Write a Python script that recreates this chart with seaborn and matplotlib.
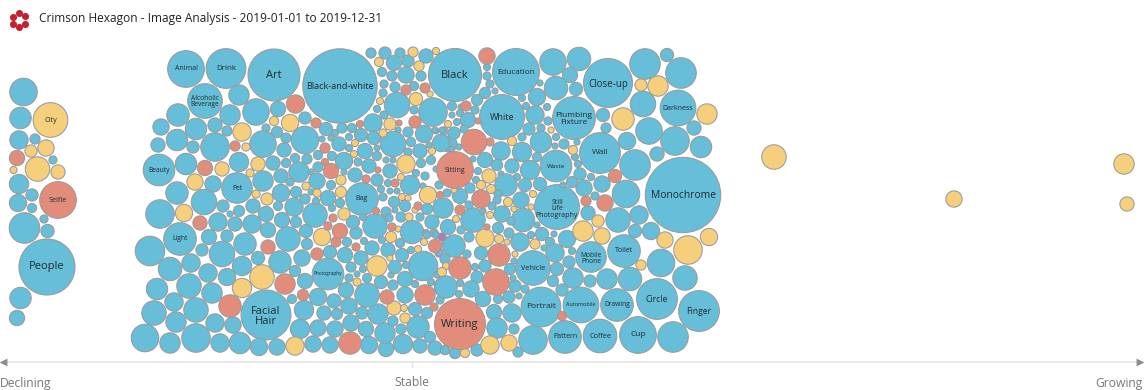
import matplotlib
matplotlib.use("Agg")
import matplotlib.pyplot as plt
import seaborn as sns
import pandas as pd
import numpy as np

OUTPUT_FILE = "out.png"
TITLE = "Crimson Hexagon - Image Analysis - 2019-01-01 to 2019-12-31"

# (trend, spread, radius) for every topic
blue_topics = [
    # declining column
    (23.5, 92, 13.5), (20.5, 118, 10.5), (19, 140, 9), (35, 139, 5), (53, 160, 4), (19, 184, 9.5),
    (32, 195, 6), (18, 203, 8.5), (32, 208, 4.5), (24.5, 228, 15), (44, 219, 4), (47.5, 231, 6.5),
    (47, 267, 27.5), (20.5, 298, 10.5), (17, 318, 7.5),
    # labelled topics
    (186, 69, 18), (226, 68.5, 19.5), (274, 75, 25.5), (340, 86, 36.5), (205, 101, 17), (159, 170, 15.5),
    (237, 188, 15), (180, 239, 16), (266, 315, 24.5), (328, 274, 15.5), (362, 199, 16), (455, 75, 26),
    (516, 72, 23), (502, 117, 22), (574, 118, 21), (608, 83, 24), (678, 108, 17.5), (600, 153, 20),
    (683, 195, 37), (556, 166, 15.5), (557, 207, 22), (533, 268, 17), (591, 257, 15), (624, 251, 16),
    (657, 299, 20), (699, 311, 20), (617, 305, 16), (581, 305, 17.5), (541, 307, 19.5), (565, 337, 16),
    (600, 336, 16.5), (638, 335, 18),
    # left of the cluster
    (239, 95, 10), (256, 112, 13), (230, 115, 10), (278, 109, 7.5), (178, 115, 11), (161, 127, 8),
    (196, 129, 10.5), (215, 125, 7), (227, 131, 5), (305, 118, 6), (266, 128, 4), (277, 132, 5.5),
    (177, 140, 10.5), (158, 145, 7), (193, 147, 6), (215, 147, 14), (263, 144, 13), (286, 138, 5),
    (305, 140, 13.5), (186, 164, 10.5), (239, 162, 9.5), (273, 163, 7), (284, 150, 7), (295, 158, 4.5),
    (307, 159, 5), (263, 181, 10), (281, 176, 7), (299, 172, 10), (213, 184, 8), (177, 193, 11),
    (204, 202, 12.5), (160, 214, 14), (223, 206, 6), (239, 211, 5.5), (230, 214, 3), (253, 206, 7),
    (278, 206, 4.5), (281, 193, 8.5), (296, 192, 5.5), (294, 207, 9), (305, 199, 5), (218, 222, 9),
    (235, 224, 7), (252, 224, 9), (266, 214, 7.5), (268, 230, 7.5), (282, 220, 7.5), (296, 222, 5.5),
    (150, 251, 14.5), (209, 237, 7.5), (227, 236, 6), (245, 244, 11), (288, 239, 12), (202, 250, 6),
    (222, 254, 12.5), (258, 258, 6.5), (280, 262, 11), (242, 266, 9.5), (170, 269, 11.5), (191, 263, 9),
    (208, 273, 9), (227, 277, 8.5), (295, 271, 5.5), (305, 281, 7.5), (157, 289, 10.5), (189, 286, 12),
    (212, 293, 10), (292, 299, 4.5), (174, 302, 9), (154, 313, 12), (196, 310, 12), (176, 322, 10),
    (215, 323, 9), (233, 325, 8), (145, 338, 13.5), (170, 343, 10), (196, 338, 14), (220, 343, 9),
    (240, 343, 10.5), (259, 347, 8.5), (277, 347, 8), (313, 344, 8), (330, 345, 8), (369, 345, 8.5),
    (386, 349, 7.5), (300, 329, 9.5), (318, 328, 8), (304, 310, 9.5), (318, 297, 8.5), (324, 313, 7),
    (334, 301, 7), (337, 314, 5.5), (335, 329, 8), (351, 323, 8), (349, 306, 8), (346, 290, 7.5),
    (366, 329, 7.5), (362, 313, 6), (378, 314, 10), (385, 333, 10), (393, 321, 5), (367, 295, 12),
    # dense middle
    (306, 231, 6.5), (307, 244, 5.5), (356, 233, 6), (347, 242, 4.5), (364, 241, 3.5), (372, 248, 7),
    (375, 226, 12), (382, 240, 3.5), (388, 250, 7), (400, 243, 4.5), (402, 255, 6.5), (411, 250, 3.5),
    (412, 232, 11.5), (426, 233, 3.5), (434, 233, 4), (447, 243, 5), (439, 253, 4), (423, 266, 14.5),
    (437, 275, 3), (431, 282, 3.5), (445, 287, 10.5), (440, 300, 4), (415, 309, 6.5), (427, 313, 5.5),
    (418, 327, 11), (430, 337, 5.5), (420, 346, 7), (435, 348, 7), (445, 350, 4.5), (401, 329, 5),
    (403, 344, 9.5), (405, 295, 8), (415, 284, 3.5), (405, 279, 7.5), (393, 285, 5), (381, 282, 6.5),
    (391, 275, 3), (395, 267, 6.5), (406, 265, 3.5), (367, 278, 4.5), (357, 274, 3), (349, 278, 4),
    (363, 269, 3.5), (351, 267, 5), (361, 258, 7), (345, 255, 7.5), (330, 252, 6.5), (302, 258, 8),
    (326, 129, 6.5), (335, 133, 3.5), (342, 128, 5), (352, 128, 4.5), (373, 123, 9), (424, 134, 8.5),
    (361, 135, 6.5), (374, 138, 6.5), (398, 130, 3), (408, 132, 5), (349, 137, 3.5), (322, 139, 3),
    (331, 138, 3), (339, 144, 7), (349, 148, 3.5), (365, 151, 7.5), (393, 144, 12.5), (411, 142, 4.5),
    (420, 151, 7), (429, 145, 3), (436, 131, 3), (444, 131, 4), (449, 144, 8), (286, 163, 4.5),
    (318, 155, 4.5), (332, 156, 4.5), (344, 161, 8.5), (358, 162, 4), (318, 167, 5), (369, 166, 7),
    (377, 156, 4.5), (386, 160, 3), (393, 160, 3), (421, 163, 4.5), (431, 160, 4.5), (311, 172, 3),
    (344, 172, 3), (355, 175, 7), (390, 171, 7), (377, 180, 6), (388, 183, 3.5), (416, 173, 3.5),
    (425, 176, 4), (410, 185, 9.5), (436, 169, 3), (290, 182, 4), (317, 181, 8), (331, 185, 4.5),
    (311, 192, 3), (328, 198, 7.5), (340, 203, 4.5), (381, 189, 3.5), (383, 197, 4), (394, 202, 5.5),
    (390, 191, 3), (397, 191, 3), (423, 186, 3), (439, 185, 4), (405, 206, 5.5), (427, 209, 5.5),
    (443, 208, 10), (386, 212, 5), (395, 210, 3), (401, 217, 5), (420, 217, 4), (432, 222, 7),
    (448, 227, 7.5), (363, 217, 3.5), (353, 222, 6.5), (332, 208, 3.5), (315, 215, 12), (316, 201, 3.5),
    (389, 218, 4), (427, 235, 3.5), (436, 235, 3.5), (454, 246, 11), (439, 252, 4), (445, 259, 5),
    # right of the middle
    (371, 53, 5), (385, 53, 6), (400, 53, 5), (426, 56, 7), (394, 63, 7.5), (408, 61, 6), (382, 72, 4.5),
    (392, 76, 5), (406, 75, 8), (421, 76, 5), (384, 84, 4), (395, 87, 5), (414, 86, 4.5), (383, 93, 4),
    (397, 105, 12.5), (377, 109, 3.5), (414, 110, 4), (433, 112, 14), (384, 115, 4), (487, 67, 3.5),
    (487, 76, 4), (490, 84, 4), (495, 91, 3), (485, 93, 5.5), (477, 100, 5.5), (452, 106, 4.5),
    (475, 110, 4), (461, 107, 3), (460, 113, 3.5), (452, 115, 3), (468, 120, 7.5), (457, 122, 3.5),
    (553, 62, 13), (579, 59, 11.5), (570, 75, 7.5), (556, 88, 11.5), (576, 89, 6.5), (540, 83, 3),
    (537, 97, 8.5), (522, 98, 3.5), (526, 106, 3.5), (547, 107, 3.5), (535, 115, 9), (548, 121, 4),
    (645, 64, 15), (667, 55, 6.5), (681, 73, 15), (643, 104, 12.5), (603, 115, 6.5), (606, 128, 5),
    (649, 131, 13), (694, 128, 7), (675, 141, 14), (701, 147, 10.5), (627, 141, 8.5), (657, 154, 7),
    (635, 165, 15), (541, 128, 4), (529, 129, 6), (522, 137, 4), (541, 142, 10.5), (556, 137, 3.5),
    (555, 146, 3), (564, 144, 5), (577, 142, 3), (575, 157, 3.5), (578, 164, 3.5), (580, 174, 6),
    (591, 177, 3.5), (602, 184, 8), (626, 194, 13.5), (584, 188, 8), (572, 182, 5.5), (563, 185, 3),
    (595, 196, 4), (537, 157, 4.5), (522, 152, 9.5), (501, 151, 9), (485, 160, 7.5), (473, 159, 3),
    (441, 143, 8.5), (454, 133, 6), (459, 147, 3), (451, 149, 3), (464, 129, 4), (435, 130, 3),
    (442, 130, 3), (408, 152, 4), (377, 148, 3), (497, 165, 5.5), (512, 166, 7), (530, 170, 9.5),
    (501, 174, 3), (517, 177, 3.5), (506, 185, 11), (525, 185, 6.5), (540, 184, 6.5), (470, 188, 5),
    (476, 180, 3.5), (478, 171, 3.5), (460, 196, 7.5), (447, 193, 4), (521, 200, 8), (498, 194, 4),
    (502, 214, 8), (523, 220, 11.5), (537, 225, 3), (511, 221, 4), (509, 233, 5), (498, 228, 5.5),
    (473, 220, 12), (497, 200, 4), (492, 206, 4), (483, 211, 3), (469, 205, 4), (461, 230, 4),
    (469, 237, 5), (520, 242, 9), (531, 235, 3.5), (542, 234, 6.5), (554, 234, 3), (550, 242, 4.5),
    (544, 248, 3), (567, 239, 8.5), (555, 253, 9), (572, 251, 3.5), (467, 254, 4), (481, 253, 6.5),
    (514, 261, 3), (569, 262, 6), (557, 269, 6.5), (553, 281, 5.5), (573, 278, 10), (590, 281, 6),
    (607, 279, 10), (630, 279, 11.5), (661, 263, 13.5), (685, 278, 12), (651, 231, 8.5), (635, 231, 6.5),
    (639, 215, 9), (618, 220, 12), (588, 213, 7), (562, 290, 6), (525, 289, 4), (519, 296, 3),
    (515, 286, 6), (513, 278, 3), (510, 269, 5.5), (509, 297, 6), (498, 299, 4.5), (477, 277, 6),
    (475, 267, 3.5), (485, 266, 6), (446, 287, 11), (460, 283, 3.5), (459, 294, 3.5), (471, 289, 8),
    (483, 299, 7.5), (494, 312, 7.5), (512, 313, 9), (497, 328, 10), (514, 329, 5), (533, 340, 14),
    (673, 337, 15), (518, 352, 5), (477, 350, 6), (455, 353, 5.5), (445, 350, 4.5),
]

yellow_topics = [
    (50.5, 120, 17), (31, 151, 6), (46, 148, 8), (37.5, 169, 12), (13.5, 170, 3.5), (58, 172, 7),
    (242, 132, 9), (274, 121, 4.5), (290, 123, 8.5), (246, 147, 4), (222, 169, 7), (258, 164, 7),
    (250, 173, 4), (195, 182, 8), (256, 194, 4), (267, 199, 6), (306, 186, 4), (184, 213, 8.5),
    (262, 277, 12), (242, 288, 9.5), (295, 346, 9), (322, 237, 8.5), (391, 237, 5.5), (418, 249, 3.5),
    (424, 242, 3.5), (446, 266, 3.5), (442, 272, 4.5), (405, 318, 5), (394, 308, 7), (404, 308, 3.5),
    (390, 258, 3), (377, 266, 10), (357, 282, 4), (390, 124, 6), (383, 133, 4), (355, 143, 3.5),
    (432, 151, 3.5), (354, 154, 3.5), (406, 164, 9), (401, 177, 3.5), (341, 180, 5), (317, 193, 4),
    (341, 192, 5.5), (402, 197, 3.5), (408, 198, 3), (428, 195, 8.5), (415, 210, 3), (409, 217, 4),
    (344, 214, 6), (398, 229, 3), (413, 52, 5), (436, 51, 3.5), (379, 62, 4.5), (419, 66, 5),
    (430, 94, 3), (416, 99, 6.5), (380, 101, 3.5), (448, 124, 3.5), (641, 85, 6), (658, 86, 10),
    (707, 114, 10), (623, 119, 11), (551, 130, 3), (512, 141, 4.5), (573, 150, 4.5), (489, 176, 7),
    (481, 185, 4.5), (491, 189, 4.5), (454, 190, 3), (508, 202, 4.5), (533, 194, 3.5), (531, 207, 3),
    (514, 209, 3), (490, 215, 3.5), (456, 219, 3.5), (485, 238, 9), (499, 239, 4.5), (507, 242, 3),
    (535, 244, 5), (515, 254, 3), (641, 265, 5), (688, 250, 14), (709, 237, 8.5), (665, 240, 8),
    (602, 236, 8), (583, 231, 10), (598, 221, 6), (490, 345, 9), (509, 343, 8), (465, 353, 4.5),
    (774, 157, 12), (954, 199, 8), (1124, 164, 10), (1127, 204, 7),
]

red_topics = [
    (17, 158, 7.5), (58, 200, 18), (295.5, 104, 9), (316, 123, 5), (235, 146, 5), (205, 168, 7.5),
    (200, 223, 7), (268, 247, 7), (285, 284, 10), (303, 295, 5.5), (230, 306, 11), (350, 343, 11),
    (387, 297, 7), (336, 242, 5), (340, 231, 7.5), (356, 247, 4), (435, 246, 6.5), (425, 295, 10),
    (434, 307, 4), (317, 254, 6), (360, 124, 3.5), (399, 123, 3), (415, 122, 6), (325, 148, 5),
    (325, 162, 3.5), (331, 171, 7.5), (378, 170, 3), (366, 179, 4), (395, 183, 4), (440, 195, 3.5),
    (418, 206, 4), (376, 211, 3.5), (392, 227, 4), (333, 218, 4), (328, 226, 4), (487, 56, 8),
    (406, 90, 5), (425, 88, 5), (466, 106, 5), (478, 121, 3), (490, 142, 4), (474, 142, 12.5),
    (455, 170, 18), (615, 176, 6.5), (605, 203, 8), (586, 201, 5), (481, 199, 9), (460, 210, 5),
    (487, 227, 3), (499, 255, 11), (496, 282, 13), (460, 268, 11), (562, 316, 4.5), (460, 324, 25),
]

purple_topics = [(442, 237, 4)]

# label, trend, spread, font size
topic_labels = [
    ("City", 50.5, 120, 5.2), ("Selfie", 58, 200, 5.2), ("People", 47, 267, 8),
    ("Animal", 186, 69, 5), ("Drink", 226, 68.5, 5.8), ("Art", 274, 76, 8),
    ("Black-and-white", 340, 86.5, 6.6), ("Alcoholic\nBeverage", 205, 101.5, 4.8),
    ("Beauty", 159, 170, 4.8), ("Pet", 237, 188, 4.8), ("Light", 180, 239, 4.8),
    ("Facial\nHair", 266, 316.5, 8), ("Photography", 328, 274, 3.4), ("Bag", 362, 199, 5),
    ("Black", 455, 76, 8), ("Education", 516, 73, 5.8), ("White", 502, 117, 6.6),
    ("Plumbing\nFixture", 574, 119, 6), ("Close-up", 608, 84, 7), ("Darkness", 678, 108, 5),
    ("Wall", 600, 153, 6), ("Monochrome", 683, 195, 7.4), ("Waste", 556, 166, 4.6),
    ("Sitting", 455, 170, 5), ("Still\nLife\nPhotography", 557, 209, 5),
    ("Vehicle", 533, 268, 5.2), ("Mobile\nPhone", 591, 258.5, 4.8), ("Toilet", 624, 251, 5),
    ("Circle", 657, 299, 6.2), ("Finger", 699, 311, 6.2), ("Drawing", 617, 305, 4.8),
    ("Automobile", 581, 305, 4), ("Portrait", 541, 307, 6), ("Pattern", 565, 337, 5),
    ("Coffee", 600, 336, 5.2), ("Cup", 638, 335, 6), ("Writing", 460, 325, 8),
]

axis_labels = ["Declining", "Stable", "Growing"]

colors = {"blue": "#66BED8", "yellow": "#F5CF7C", "red": "#E28D7B", "purple": "#A97FB6"}
FIG_W, FIG_H = 1144, 390
DPI = 100


def build_frame():
    rows = []
    groups = {"blue": blue_topics, "yellow": yellow_topics, "red": red_topics, "purple": purple_topics}
    for name, topics in groups.items():
        for trend, spread, radius in topics:
            rows.append({"trend": trend, "spread": spread, "volume": radius ** 2, "group": name})
    return pd.DataFrame(rows)


def main():
    sns.set_theme(style="white")
    plt.rcParams["font.family"] = ["Open Sans", "DejaVu Sans"]

    df = build_frame()
    fig = plt.figure(figsize=(FIG_W / DPI, FIG_H / DPI), dpi=DPI)
    ax = fig.add_axes([0, 0, 1, 1])

    # area scale: radius 1 in the table is 1 pixel on the canvas
    max_volume = df["volume"].max()
    max_area = (2 * np.sqrt(max_volume) * 72 / DPI) ** 2
    sns.scatterplot(
        data=df, x="trend", y="spread", hue="group", palette=colors,
        size="volume", sizes=(0, max_area * 1.04), size_norm=(0, max_volume),
        edgecolor="#9a9a9a", linewidth=0.75, legend=False, ax=ax, zorder=3,
    )
    ax.set_xlim(0, FIG_W)
    ax.set_ylim(FIG_H, 0)
    ax.set_axis_off()

    for label, trend, spread, font_size in topic_labels:
        ax.text(trend, spread, label, ha="center", va="center", fontsize=font_size,
                color="#1f2d33", linespacing=0.85, zorder=4)

    # logo
    angles = np.deg2rad(np.arange(30, 390, 60))
    ax.scatter(19 + 7 * np.cos(angles), 20 + 7 * np.sin(angles), s=26, color="#C4202F", linewidth=0, zorder=3)
    ax.text(39, 18.5, TITLE, fontsize=8.6, color="#222222", va="center", ha="left")

    # trend axis along the bottom
    ax.plot([4, 1139], [362, 362], color="#e2e2e2", lw=1.1, zorder=1)
    ax.plot([412, 412], [362, 367], color="#e2e2e2", lw=1, zorder=1)
    ax.scatter([3], [362], marker="<", s=32, color="#8c8c8c", linewidth=0, zorder=2)
    ax.scatter([1140], [362], marker=">", s=32, color="#8c8c8c", linewidth=0, zorder=2)
    ax.text(0, 383, axis_labels[0], fontsize=8.7, color="#777777", ha="left", va="center")
    ax.text(412, 383, axis_labels[1], fontsize=8.7, color="#777777", ha="center", va="center")
    ax.text(1143, 383, axis_labels[2], fontsize=8.7, color="#777777", ha="right", va="center")

    fig.savefig(OUTPUT_FILE, dpi=DPI)
    plt.close(fig)


if __name__ == "__main__":
    main()
